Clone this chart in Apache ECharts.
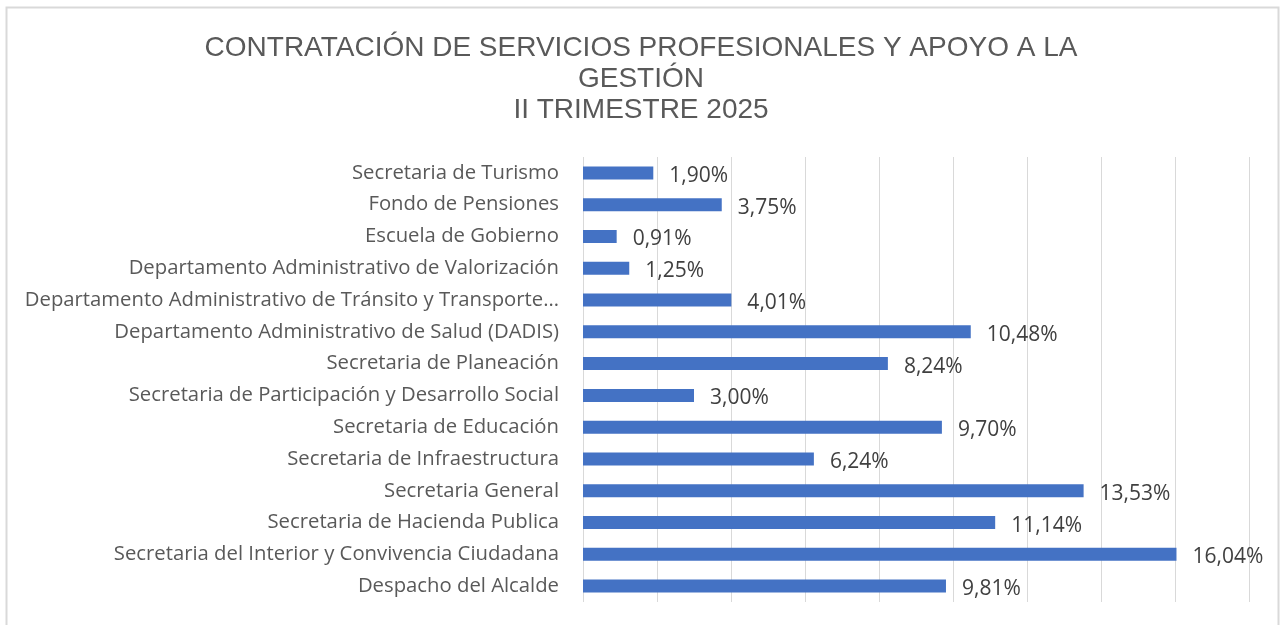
<!DOCTYPE html>
<html lang="es" style="height: 100%">
<head>
  <meta charset="utf-8">
  <script src="https://cdn.jsdelivr.net/npm/echarts@6/dist/echarts.min.js"></script>
  <style>
    body { height: 100%; margin: 0; background: #fff; }
    #chart { width: 1282px; height: 625px; }
  </style>
</head>
<body>
  <div id="chart"></div>
  <script>
    // bottom -> top, same order as the category axis draws them
    var categories = [
      'Despacho del Alcalde',
      'Secretaria del Interior y Convivencia Ciudadana',
      'Secretaria de Hacienda Publica',
      'Secretaria General',
      'Secretaria de Infraestructura',
      'Secretaria de Educación',
      'Secretaria de Participación y Desarrollo Social',
      'Secretaria de Planeación',
      'Departamento Administrativo de Salud (DADIS)',
      'Departamento Administrativo de Tránsito y Transporte…',
      'Departamento Administrativo de Valorización',
      'Escuela de Gobierno',
      'Fondo de Pensiones',
      'Secretaria de Turismo'
    ];
    var shares = [9.81, 16.04, 11.14, 13.53, 6.24, 9.70, 3.00, 8.24, 10.48, 4.01, 1.25, 0.91, 3.75, 1.90];
    var titleLines = ['CONTRATACIÓN DE SERVICIOS PROFESIONALES Y APOYO A LA', 'GESTIÓN', 'II TRIMESTRE 2025'];

    function fmt(v) {
      return v.toFixed(2).replace('.', ',') + '%';
    }

    var chart = echarts.init(document.getElementById('chart'));
    chart.setOption({
      backgroundColor: '#fff',
      animation: false,
      title: {
        text: titleLines.join('\n'),
        left: 'center',
        top: 28,
        textStyle: {
          color: '#595959',
          fontFamily: 'Liberation Sans',
          fontWeight: 'normal',
          fontSize: 28,
          lineHeight: 31
        }
      },
      graphic: [{
        type: 'rect',
        shape: { x: 6.5, y: 7.5, width: 1272, height: 640 },
        style: { fill: 'none', stroke: '#d9d9d9', lineWidth: 2 },
        silent: true
      }],
      grid: { left: 583, right: 33, top: 157, bottom: 23, containLabel: false },
      xAxis: {
        type: 'value',
        min: 0,
        max: 18,
        interval: 2,
        axisLabel: { show: false },
        axisLine: { show: false },
        axisTick: { show: false },
        splitLine: { lineStyle: { color: '#d9d9d9', width: 1 } }
      },
      yAxis: {
        type: 'category',
        data: categories,
        axisLine: { show: false },
        axisTick: { show: false },
        axisLabel: {
          color: '#595959',
          fontFamily: 'Open Sans',
          fontSize: 20.3,
          margin: 24
        }
      },
      series: [{
        type: 'bar',
        data: shares,
        barWidth: 13,
        itemStyle: { color: '#4472C4' },
        label: {
          show: true,
          position: 'right',
          distance: 16,
          color: '#404040',
          fontFamily: 'Open Sans',
          fontSize: 21,
          offset: [0, 3],
          formatter: function (p) { return fmt(p.value); }
        }
      }]
    });
  </script>
</body>
</html>
